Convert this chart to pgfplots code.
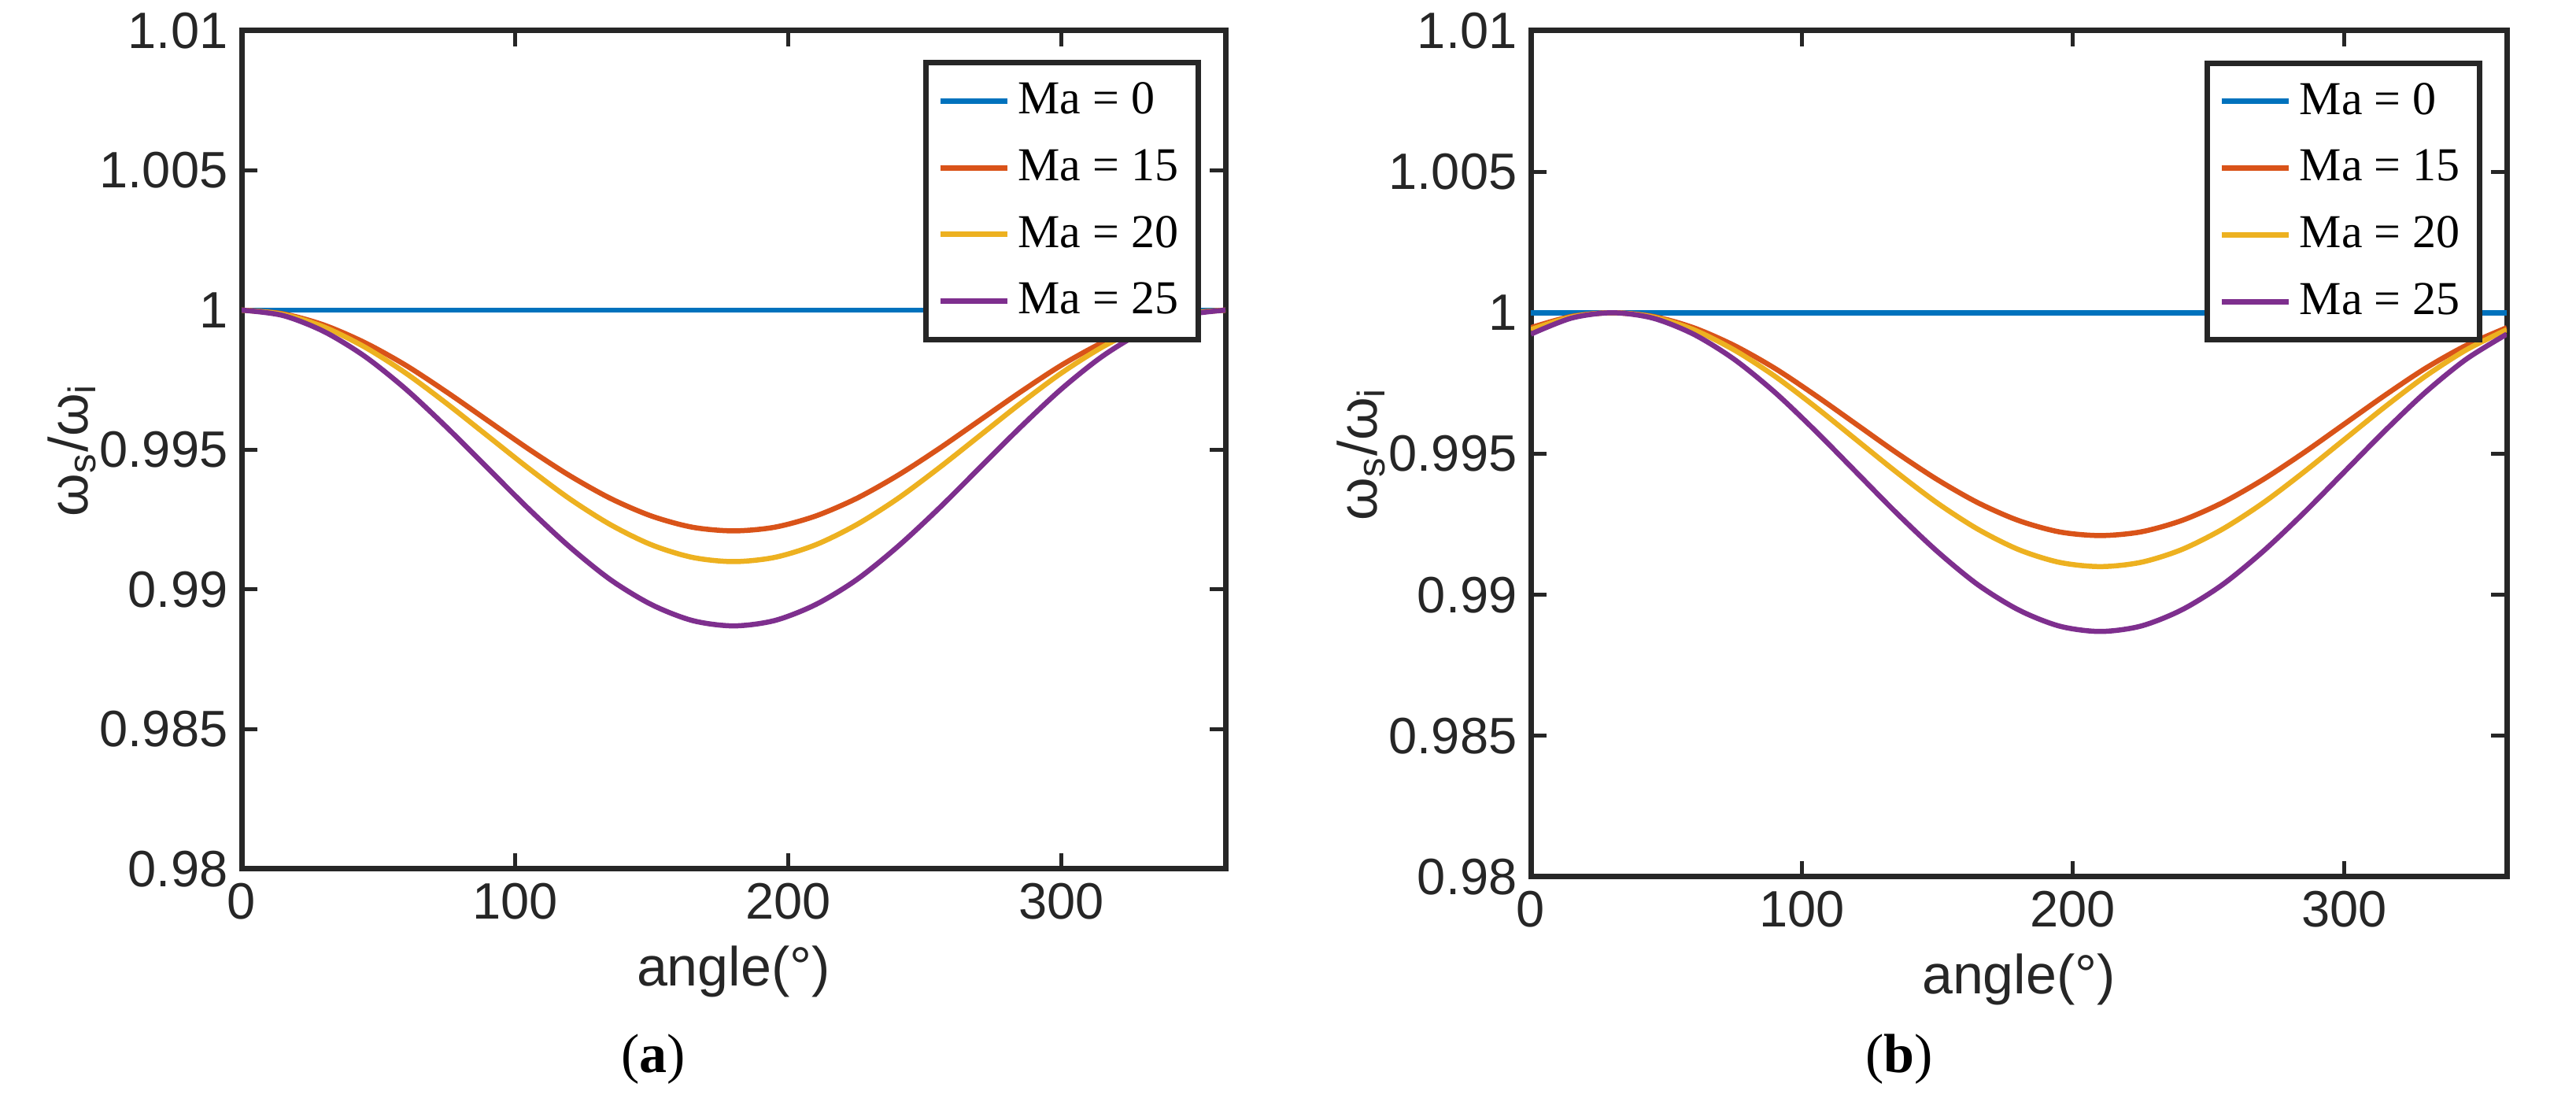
\documentclass[border=0pt]{standalone}
\usepackage{pgfplots}
\pgfplotsset{compat=1.18}
\usepackage{pgfplotstable}
\usepackage{fontspec}
\setmainfont{Liberation Sans}
\newfontfamily\tnr{Liberation Serif}
\definecolor{c1}{rgb}{0,0.447,0.741}
\definecolor{c2}{rgb}{0.85,0.325,0.098}
\definecolor{c3}{rgb}{0.929,0.694,0.125}
\definecolor{c4}{rgb}{0.494,0.184,0.556}
\pgfplotstableread{
x a b c
0 1 1 1
15 0.99987 0.99985 0.99981
30 0.99947 0.99940 0.99924
45 0.99884 0.99868 0.99835
60 0.99803 0.99775 0.99718
75 0.99707 0.99666 0.99581
90 0.99605 0.99550 0.99435
105 0.99503 0.99434 0.99289
120 0.99408 0.99325 0.99153
135 0.99326 0.99232 0.99035
150 0.99263 0.99160 0.98946
165 0.99223 0.99115 0.98889
180 0.9921 0.9910 0.9887
195 0.99223 0.99115 0.98889
210 0.99263 0.99160 0.98946
225 0.99326 0.99232 0.99035
240 0.99408 0.99325 0.99153
255 0.99503 0.99434 0.99289
270 0.99605 0.99550 0.99435
285 0.99707 0.99666 0.99581
300 0.99803 0.99775 0.99718
315 0.99884 0.99868 0.99835
330 0.99947 0.99940 0.99924
345 0.99987 0.99985 0.99981
360 1 1 1
}\ta
\pgfplotstableread{
x a b c
0 0.99947 0.99940 0.99924
15 0.99987 0.99985 0.99981
30 1 1 1
45 0.99987 0.99985 0.99981
60 0.99947 0.99940 0.99924
75 0.99884 0.99868 0.99835
90 0.99803 0.99775 0.99718
105 0.99707 0.99666 0.99581
120 0.99605 0.99550 0.99435
135 0.99503 0.99434 0.99289
150 0.99408 0.99325 0.99153
165 0.99326 0.99232 0.99035
180 0.99263 0.99160 0.98946
195 0.99223 0.99115 0.98889
210 0.9921 0.9910 0.9887
225 0.99223 0.99115 0.98889
240 0.99263 0.99160 0.98946
255 0.99326 0.99232 0.99035
270 0.99408 0.99325 0.99153
285 0.99503 0.99434 0.99289
300 0.99605 0.99550 0.99435
315 0.99707 0.99666 0.99581
330 0.99803 0.99775 0.99718
345 0.99884 0.99868 0.99835
360 0.99947 0.99940 0.99924
}\tb
\pgfplotsset{
  myax/.style={
    scale only axis,
    xmin=0,xmax=360,ymin=0.98,ymax=1.01,
    xtick={0,100,200,300},
    ytick={0.98,0.985,0.99,0.995,1,1.005,1.01},
    yticklabels={0.98,0.985,0.99,0.995,1,1.005,1.01},
    tick align=inside, tick pos=both,
    major tick length=4pt,
    axis line style={line width=1.4pt,black!85},
    tick style={line width=1pt,black!85},
    /pgf/number format/assume math mode=true,
    ticklabel style={font=\fontsize{13}{15}\selectfont, color=black!85},
    label style={font=\fontsize{14}{16}\selectfont, color=black!85},
    xlabel={angle(°)},
    ylabel={ω\textsubscript{s}/ω\textsubscript{i}},
    ylabel style={yshift=-6pt},
    legend style={at={(0.975,0.965)},anchor=north east,draw=black!85,line width=1.4pt,
      font=\tnr\fontsize{12}{14}\selectfont, row sep=3.5pt, inner sep=3pt},
    legend cell align=left,
    legend image post style={line width=1.4pt},
    every axis plot/.append style={line width=1.3pt, no marks, smooth},
  }
}
\begin{document}
\begin{tikzpicture}
\useasboundingbox (0,0) rectangle (654.6pt,282.8pt);
\begin{axis}[myax, at={(61.4pt,62pt)}, anchor=south west, width=250pt, height=213pt]
\addplot[c1] coordinates {(0,1) (360,1)};
\addplot[c2] table[x=x,y=a]{\ta};
\addplot[c3] table[x=x,y=b]{\ta};
\addplot[c4] table[x=x,y=c]{\ta};
\legend{Ma = 0,Ma = 15,Ma = 20,Ma = 25}
\end{axis}
\begin{axis}[myax, at={(389pt,60pt)}, anchor=south west, width=248pt, height=215pt]
\addplot[c1] coordinates {(0,1) (360,1)};
\addplot[c2] table[x=x,y=a]{\tb};
\addplot[c3] table[x=x,y=b]{\tb};
\addplot[c4] table[x=x,y=c]{\tb};
\legend{Ma = 0,Ma = 15,Ma = 20,Ma = 25}
\end{axis}
\node[font=\tnr\fontsize{14}{16}\selectfont] at (166pt,13.6pt) {(\textbf{a})};
\node[font=\tnr\fontsize{14}{16}\selectfont] at (482.6pt,13.6pt) {(\textbf{b})};
\end{tikzpicture}
\end{document}
